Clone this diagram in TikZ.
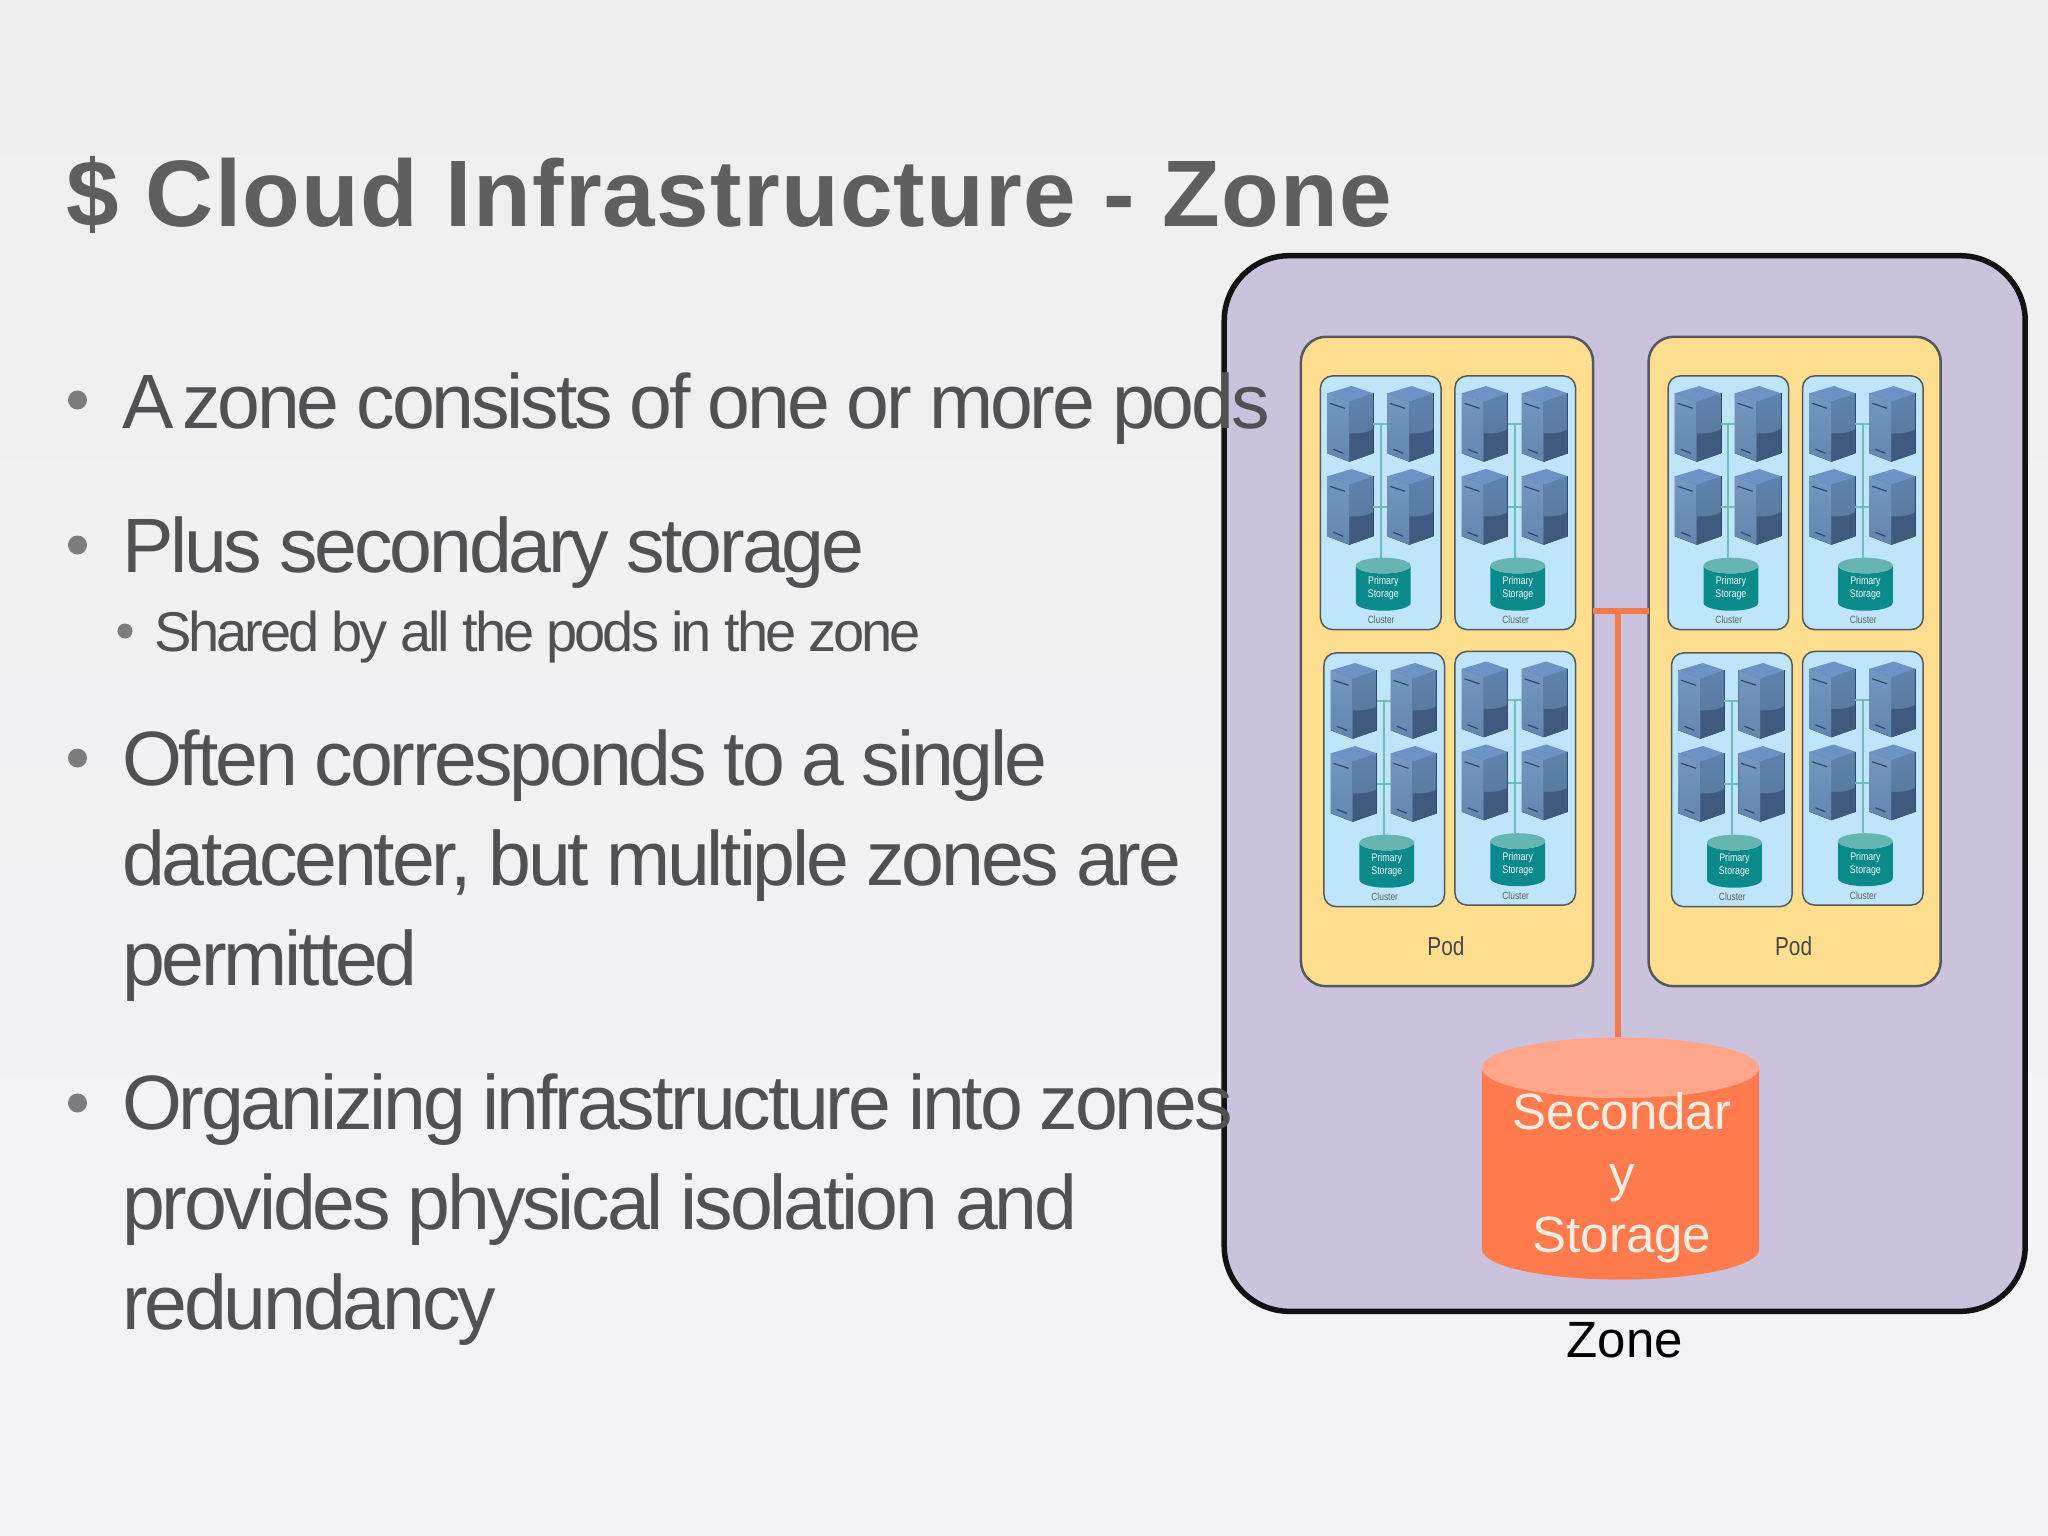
\documentclass[tikz,border=0pt]{standalone}
\usepackage{fontspec}
\setmainfont{Liberation Sans}
\newfontfamily\titlefont[LetterSpace=1.3]{Liberation Sans Bold}
\newfontfamily\bodyfont[LetterSpace=-4.1,WordSpace=0.93]{Liberation Sans}
\newfontfamily\subfont[LetterSpace=-5.5]{Liberation Sans}
\newfontfamily\narrowfont[FakeStretch=0.8]{Liberation Sans}
\usetikzlibrary{positioning, shapes.geometric}

\definecolor{pagetop}{HTML}{EFEFEF}
\definecolor{pagebot}{HTML}{F4F4F7}
\definecolor{titlegray}{HTML}{5F5F5F}
\definecolor{bodygray}{HTML}{515154}
\definecolor{bulletgray}{HTML}{7D7D7D}
\definecolor{zonefill}{HTML}{CBC3DD}
\definecolor{podfill}{HTML}{FFDF8F}
\definecolor{clusterfill}{HTML}{BFE5FB}
\definecolor{edgegray}{HTML}{55585C}
\definecolor{storebody}{HTML}{0B8A8C}
\definecolor{storeend}{HTML}{66B5B0}
\definecolor{linkteal}{HTML}{6FBDB8}
\definecolor{secbody}{HTML}{FF7A4D}
\definecolor{secend}{HTML}{FFA68A}
\definecolor{linkorange}{HTML}{F4794F}
\definecolor{sectextc}{HTML}{F5ECE2}
\definecolor{serverA}{HTML}{7598C2}
\definecolor{serverB}{HTML}{6386AE}
\definecolor{serverC}{HTML}{5F83AE}
\definecolor{serverD}{HTML}{557699}
\definecolor{serverE}{HTML}{3F5A7E}
\definecolor{serverF}{HTML}{6C93C6}
\definecolor{serverG}{HTML}{2F4A6B}

\begin{document}
\begin{tikzpicture}[
    x=0.01cm, y=-0.01cm,
    every node/.style={inner sep=0pt, outer sep=0pt},
    zonebox/.style={rectangle, draw=black!93, line width=0.055cm, fill=zonefill, rounded corners=0.65cm, minimum width=8.005cm, minimum height=10.55cm},
    podbox/.style={rectangle, draw=edgegray, line width=0.025cm, fill=podfill, rounded corners=0.25cm, minimum width=2.92cm, minimum height=6.49cm},
    clusterbox/.style={rectangle, draw=edgegray, line width=0.015cm, fill=clusterfill, rounded corners=0.12cm, minimum width=1.205cm, minimum height=2.535cm},
    primary/.style={cylinder, shape border rotate=90, aspect=0.51, minimum width=0.547cm, minimum height=0.53cm, cylinder uses custom fill, cylinder body fill=storebody, cylinder end fill=storeend, text=white!92!storeend, align=center, font=\narrowfont\fontsize{3.13}{3.7}\selectfont},
    secondary/.style={cylinder, shape border rotate=90, aspect=0.277, minimum width=2.77cm, minimum height=2.42cm, cylinder uses custom fill, cylinder body fill=secbody, cylinder end fill=secend, font=\fontsize{14.51}{17.5}\selectfont},
    sectext/.style={align=center, text=sectextc, font=\fontsize{14.51}{17.5}\selectfont},
    tealline/.style={draw=linkteal, line width=0.02cm},
    orangeline/.style={draw=linkorange, line width=0.06cm},
    bullet/.style={circle, fill=bulletgray, minimum size=0.19cm},
    subbullet/.style={circle, fill=bulletgray, minimum size=0.15cm},
    bodytext/.style={anchor=base west, align=left, text=bodygray, font=\bodyfont\fontsize{21.9}{28.3}\selectfont},
    subtext/.style={anchor=base west, text=bodygray, font=\subfont\fontsize{15.93}{19}\selectfont},
    server/.pic={
        \fill[top color=serverA, bottom color=serverB] (0,7.3) -- (22,15.7) -- (22,75.7) -- (0,67.3) -- cycle;
        \fill[top color=serverC, bottom color=serverD] (22,15.7) -- (46,7.3) -- (46,67.3) -- (22,75.7) -- cycle;
        \fill[serverE] (22,47.3) .. controls (30,48) and (40,47) .. (46,43) -- (46,67.3) -- (22,75.7) -- cycle;
        \fill[serverF] (0,7.3) -- (24.4,0) -- (46,7.3) -- (22,15.7) -- cycle;
        \draw[serverG, line width=0.012cm] (2.7,17.3) -- (17.7,22.3) (6,63.3) -- (16,67.3);
        \draw[serverG, line width=0.008cm] (46,7.3) -- (46,67.3);
        \coordinate (-east) at (46,38);
        \coordinate (-west) at (0,38);
    }
]
    % Page
    \fill[top color=pagetop, bottom color=pagebot] (0,0) rectangle (2048,1536);
    \useasboundingbox (0,0) rectangle (2048,1536);

    % Title
    \node (title) [anchor=base west, text=titlegray, font=\titlefont\fontsize{26.86}{30}\selectfont] at (66,226) {\$ Cloud Infrastructure - Zone};

    % Zone and pods
    \node (zone) [zonebox] at (1624.7,783.5) {};
    \node (zonelabel) [below=0.11cm of zone, font=\fontsize{14.5}{16}\selectfont] {Zone};
    \node (store) [secondary] at (1620.5,1174) {\phantom{Secondar}};
    \node (storetext) [sectext] at (1622,1178) {Secondar\\y\\Storage};

    \foreach \p/\px in {a/0, b/347.6} {
        \node (pod\p) [podbox] at (1447+\px,661.5) {};
        \node (podlabel\p) [font=\narrowfont\fontsize{7.4}{9}\selectfont, text=black!72] at (1446+\px,946) {Pod};

        % Clusters
        \foreach \c/\cx/\cy in {a/1320.5/376, b/1455/376, c/1324/653, d/1455/651.5} {
            \begin{scope}[shift={(\cx+\px,\cy)}]
                \node (cluster\p\c) [clusterbox] at (60.25,126.75) {};
                \node (clusterlabel\p\c) [font=\narrowfont\fontsize{2.99}{3.5}\selectfont, text=black!62] at (60.7,244) {Cluster};
                \pic (srv\p\c a) at (6.8,10) {server};
                \pic (srv\p\c b) at (66.8,10) {server};
                \pic (srv\p\c c) at (6.8,93) {server};
                \pic (srv\p\c d) at (66.8,93) {server};
                \node (prim\p\c) [primary] at (62.8,212.5) {Primary\\Storage};
                \coordinate (tee\p\c) at (60.2,48);
                \draw[tealline] (srv\p\c a-east) -- (srv\p\c b-west);
                \draw[tealline] (srv\p\c c-east) -- (srv\p\c d-west);
                \draw[tealline] (tee\p\c) -- (tee\p\c |- prim\p\c.north);
            \end{scope}
        }
    }

    % Links to secondary storage
    \coordinate (junction) at (1618,611);
    \draw[orangeline] (poda.east |- junction) -- (podb.west |- junction);
    \draw[orangeline] (junction) -- (junction |- store.north);

    % Bullets
    \node (dota) [bullet] at (77.5,400) {};
    \node (dotb) [bullet] at (77.5,545) {};
    \node (dotc) [subbullet] at (125,631) {};
    \node (dotd) [bullet] at (77.5,758) {};
    \node (dote) [bullet] at (77.5,1103) {};

    \node (linea) [bodytext] at (122,428) {A\kern-2.3pt{} zone consists of one or more pods};
    \node (lineb) [bodytext] at (122,572.5) {Plus secondary storage};
    \node (linec) [subtext] at (154,651) {Shared by all the pods in the zone};
    \node (lined) [bodytext] at (122,985) {Often corresponds to a single\\datacenter, but multiple zones are\\permitted};
    \node (linee) [bodytext] at (122,1329) {Organizing infrastructure into zones\\provides physical isolation and\\redundancy};
\end{tikzpicture}
\end{document}
